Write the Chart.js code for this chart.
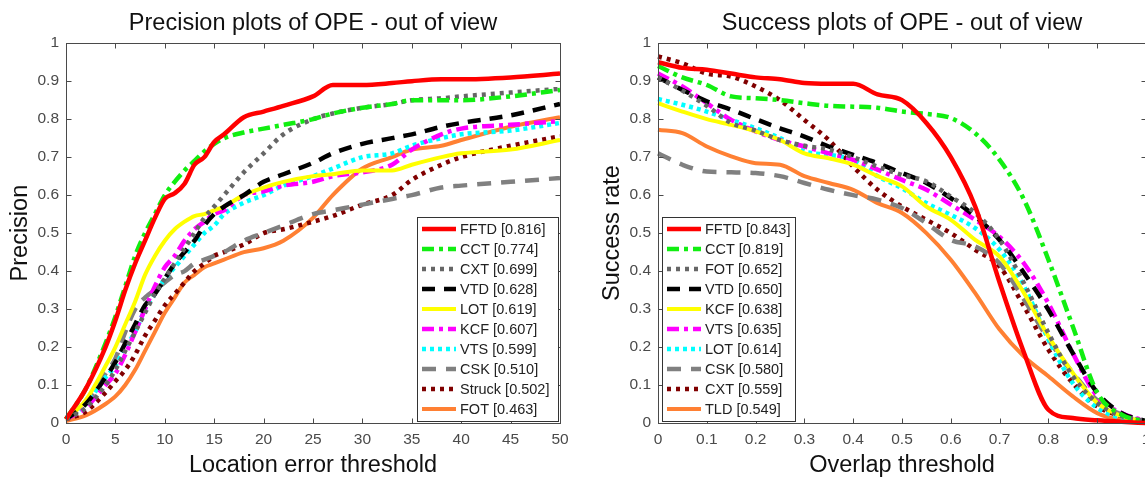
<!DOCTYPE html>
<html>
<head>
<meta charset="utf-8">
<script src="https://cdn.jsdelivr.net/npm/chart.js@4.4.1/dist/chart.umd.min.js"></script>
<style>
html, body { margin: 0; padding: 0; background: #fff; overflow: hidden; }
#wrap { position: relative; width: 1145px; height: 480px; overflow: hidden; }
#precision { position: absolute; left: 0; top: 0; }
#success { position: absolute; left: 580px; top: 0; }
</style>
</head>
<body>
<div id="wrap">
  <canvas id="precision" width="580" height="480"></canvas>
  <canvas id="success" width="590" height="480"></canvas>
</div>
<script>
// precision plot (location error threshold)
const precThresholds = [0, 2, 4, 5, 6, 7, 8, 9, 10, 11, 12, 13, 14, 15, 16, 18, 20, 22, 25, 27, 30, 33, 35, 38, 40, 45, 50];
const precNames = ['FFTD [0.816]', 'CCT [0.774]', 'CXT [0.699]', 'VTD [0.628]', 'LOT [0.619]',
                   'KCF [0.607]', 'VTS [0.599]', 'CSK [0.510]', 'Struck [0.502]', 'FOT [0.463]'];
const precFFTD   = [0.01, 0.09, 0.20, 0.27, 0.35, 0.42, 0.48, 0.54, 0.59, 0.605, 0.63, 0.68, 0.70, 0.74, 0.76, 0.805, 0.82, 0.835, 0.86, 0.89, 0.89, 0.895, 0.90, 0.905, 0.905, 0.91, 0.92];
const precCCT    = [0.01, 0.09, 0.21, 0.28, 0.36, 0.44, 0.50, 0.55, 0.60, 0.635, 0.665, 0.69, 0.715, 0.735, 0.75, 0.765, 0.775, 0.785, 0.80, 0.815, 0.83, 0.84, 0.85, 0.85, 0.85, 0.86, 0.877];
const precCXT    = [0.01, 0.04, 0.10, 0.14, 0.19, 0.24, 0.29, 0.34, 0.38, 0.42, 0.46, 0.50, 0.54, 0.57, 0.60, 0.66, 0.71, 0.76, 0.80, 0.815, 0.83, 0.84, 0.85, 0.855, 0.86, 0.87, 0.88];
const precVTD    = [0.01, 0.05, 0.12, 0.16, 0.21, 0.26, 0.31, 0.34, 0.38, 0.42, 0.45, 0.48, 0.52, 0.55, 0.57, 0.60, 0.635, 0.655, 0.685, 0.71, 0.735, 0.75, 0.76, 0.78, 0.79, 0.81, 0.84];
const precLOT    = [0.01, 0.06, 0.15, 0.20, 0.26, 0.32, 0.39, 0.44, 0.48, 0.51, 0.53, 0.545, 0.55, 0.56, 0.57, 0.60, 0.62, 0.635, 0.65, 0.655, 0.665, 0.665, 0.68, 0.70, 0.71, 0.72, 0.745];
const precKCF    = [0.01, 0.04, 0.10, 0.13, 0.18, 0.24, 0.30, 0.36, 0.41, 0.44, 0.48, 0.51, 0.53, 0.55, 0.56, 0.60, 0.61, 0.625, 0.635, 0.65, 0.66, 0.68, 0.72, 0.76, 0.775, 0.785, 0.795];
const precVTS    = [0.01, 0.05, 0.12, 0.15, 0.20, 0.24, 0.30, 0.34, 0.38, 0.41, 0.44, 0.47, 0.50, 0.52, 0.55, 0.58, 0.60, 0.625, 0.65, 0.67, 0.70, 0.71, 0.73, 0.75, 0.76, 0.77, 0.79];
const precCSK    = [0.01, 0.05, 0.13, 0.17, 0.24, 0.30, 0.33, 0.35, 0.37, 0.39, 0.40, 0.42, 0.43, 0.44, 0.45, 0.48, 0.50, 0.52, 0.55, 0.56, 0.575, 0.59, 0.60, 0.62, 0.625, 0.635, 0.645];
const precStruck = [0.01, 0.03, 0.08, 0.11, 0.14, 0.18, 0.23, 0.27, 0.31, 0.34, 0.37, 0.40, 0.42, 0.44, 0.45, 0.47, 0.50, 0.51, 0.53, 0.545, 0.575, 0.60, 0.64, 0.68, 0.70, 0.73, 0.755];
const precFOT    = [0.005, 0.02, 0.05, 0.07, 0.10, 0.14, 0.19, 0.24, 0.29, 0.33, 0.37, 0.39, 0.41, 0.42, 0.43, 0.45, 0.46, 0.48, 0.54, 0.60, 0.67, 0.70, 0.72, 0.73, 0.745, 0.78, 0.805];

// success plot (overlap threshold)
const succThresholds = [0, 0.05, 0.1, 0.15, 0.2, 0.25, 0.3, 0.35, 0.4, 0.45, 0.5, 0.55, 0.6, 0.65, 0.7, 0.75, 0.8, 0.85, 0.9, 0.95, 1];
const succNames = ['FFTD [0.843]', 'CCT [0.819]', 'FOT [0.652]', 'VTD [0.650]', 'KCF [0.638]',
                   'VTS [0.635]', 'LOT [0.614]', 'CSK [0.580]', 'CXT [0.559]', 'TLD [0.549]'];
const succFFTD = [0.95, 0.935, 0.93, 0.92, 0.91, 0.905, 0.895, 0.893, 0.893, 0.865, 0.85, 0.79, 0.70, 0.57, 0.37, 0.185, 0.035, 0.013, 0.007, 0.003, 0];
const succCCT  = [0.94, 0.91, 0.89, 0.86, 0.855, 0.85, 0.842, 0.835, 0.833, 0.83, 0.82, 0.814, 0.803, 0.763, 0.693, 0.588, 0.43, 0.254, 0.08, 0.022, 0.004];
const succFOT  = [0.91, 0.875, 0.835, 0.79, 0.77, 0.745, 0.73, 0.72, 0.70, 0.675, 0.653, 0.636, 0.596, 0.553, 0.482, 0.368, 0.237, 0.123, 0.053, 0.018, 0.005];
const succVTD  = [0.91, 0.877, 0.847, 0.825, 0.80, 0.776, 0.754, 0.728, 0.706, 0.684, 0.658, 0.632, 0.592, 0.544, 0.482, 0.395, 0.298, 0.184, 0.08, 0.026, 0.005];
const succKCF  = [0.842, 0.82, 0.80, 0.785, 0.768, 0.745, 0.71, 0.697, 0.68, 0.65, 0.623, 0.57, 0.535, 0.482, 0.438, 0.342, 0.228, 0.132, 0.053, 0.018, 0.003];
const succVTS  = [0.92, 0.886, 0.842, 0.798, 0.768, 0.745, 0.728, 0.71, 0.693, 0.667, 0.64, 0.614, 0.575, 0.535, 0.49, 0.42, 0.315, 0.184, 0.07, 0.026, 0.005];
const succLOT  = [0.853, 0.838, 0.82, 0.798, 0.776, 0.75, 0.715, 0.706, 0.693, 0.65, 0.618, 0.579, 0.548, 0.513, 0.456, 0.36, 0.22, 0.105, 0.04, 0.013, 0.003];
const succCSK  = [0.71, 0.68, 0.662, 0.66, 0.658, 0.65, 0.632, 0.614, 0.60, 0.588, 0.566, 0.526, 0.482, 0.465, 0.42, 0.325, 0.22, 0.132, 0.06, 0.022, 0.003];
const succCXT  = [0.965, 0.947, 0.92, 0.912, 0.886, 0.85, 0.798, 0.745, 0.675, 0.614, 0.57, 0.535, 0.50, 0.456, 0.412, 0.307, 0.193, 0.105, 0.044, 0.018, 0.003];
const succTLD  = [0.772, 0.763, 0.728, 0.702, 0.684, 0.68, 0.65, 0.632, 0.614, 0.579, 0.553, 0.50, 0.43, 0.342, 0.246, 0.175, 0.123, 0.07, 0.026, 0.007, 0.002];

// line style per rank (same in both plots)
const rankStyles = [
    { color: '#ff0000', dash: [],            width: 4.5 },
    { color: '#11ee11', dash: [12, 5, 4, 5], width: 4.5 },
    { color: '#666666', dash: [4, 5],        width: 4.5 },
    { color: '#000000', dash: [13, 9],       width: 4.5 },
    { color: '#ffff00', dash: [],            width: 4 },
    { color: '#ff00ff', dash: [12, 5, 4, 5], width: 4.5 },
    { color: '#00ffff', dash: [4, 4],        width: 4.5 },
    { color: '#808080', dash: [14, 10],      width: 4.5 },
    { color: '#800000', dash: [4, 5],        width: 4.5 },
    { color: '#ff8033', dash: [],            width: 4 }
];

const FONT = '"Liberation Sans", Arial, sans-serif';
const AXIS = '#4a4a4a';

// matlab style box, inward ticks and legend inside the axes
const boxLegend = {
    id: 'boxLegend',
    afterDatasetsDraw(chart, args, opts) {
        const { ctx, chartArea: a, scales } = chart;
        ctx.save();
        ctx.strokeStyle = AXIS;
        ctx.lineWidth = 1;
        ctx.setLineDash([]);
        const L = Math.round(a.left) + 0.5, R = Math.round(a.right) + 0.5;
        const T = Math.round(a.top) + 0.5, B = Math.round(a.bottom) + 0.5;
        ctx.strokeRect(L, T, R - L, B - T);
        ctx.beginPath();
        scales.x.ticks.forEach(t => {
            const px = Math.round(scales.x.getPixelForValue(t.value)) + 0.5;
            ctx.moveTo(px, B); ctx.lineTo(px, B - 5);
            ctx.moveTo(px, T); ctx.lineTo(px, T + 5);
        });
        scales.y.ticks.forEach(t => {
            const py = Math.round(scales.y.getPixelForValue(t.value)) + 0.5;
            ctx.moveTo(L, py); ctx.lineTo(L + 5, py);
            ctx.moveTo(R, py); ctx.lineTo(R - 5, py);
        });
        ctx.stroke();

        // legend
        const items = chart.data.datasets;
        ctx.font = '14.5px ' + FONT;
        const rowH = 20;
        const textW = Math.max(...items.map(d => ctx.measureText(d.label).width));
        const w = Math.round(43 + textW + opts.padRight);
        const h = rowH * items.length + 4;
        const bx = opts.corner === 'right' ? Math.round(a.right) - 2 - w : Math.round(a.left) + 4;
        const by = Math.round(a.bottom) - 2 - h;
        ctx.fillStyle = '#fff';
        ctx.fillRect(bx, by, w, h);
        ctx.strokeStyle = '#333';
        ctx.strokeRect(bx + 0.5, by + 0.5, w, h);
        items.forEach((d, i) => {
            const cy = by + 12 + rowH * i;
            ctx.beginPath();
            ctx.strokeStyle = d.borderColor;
            ctx.lineWidth = d.borderWidth;
            ctx.setLineDash(d.borderDash);
            ctx.moveTo(bx + 5, cy);
            ctx.lineTo(bx + 39, cy);
            ctx.stroke();
            ctx.setLineDash([]);
            ctx.fillStyle = '#222';
            ctx.textBaseline = 'middle';
            ctx.fillText(d.label, bx + 43, cy + 1);
        });
        ctx.restore();
    }
};

function fmt(v) {
    return String(Math.round(v * 10) / 10);
}

function buildChart(canvas, cfg) {
    const datasets = cfg.series.map((s, i) => ({
        label: cfg.names[i],
        data: cfg.xs.map((x, j) => ({ x: x, y: s[j] })),
        borderColor: rankStyles[i].color,
        borderDash: rankStyles[i].dash,
        borderWidth: rankStyles[i].width,
        pointRadius: 0,
        fill: false,
        cubicInterpolationMode: 'monotone',
        clip: 4
    }));
    return new Chart(canvas, {
        type: 'line',
        data: { datasets: datasets },
        plugins: [boxLegend],
        options: {
            responsive: false,
            animation: false,
            layout: { padding: { left: 0, right: cfg.padRight, top: 0, bottom: 0 } },
            plugins: {
                legend: { display: false },
                tooltip: { enabled: false },
                title: {
                    display: true,
                    text: cfg.title,
                    fullSize: false,
                    color: '#111',
                    font: { family: FONT, size: 23.5, weight: 'normal' },
                    padding: { top: 9, bottom: 6 }
                },
                boxLegend: { corner: cfg.legendCorner, padRight: cfg.legendPad }
            },
            scales: {
                x: {
                    type: 'linear',
                    min: cfg.xMin,
                    max: cfg.xMax,
                    grid: { display: false, drawTicks: false },
                    border: { display: false },
                    ticks: {
                        stepSize: cfg.xStep,
                        autoSkip: false,
                        maxRotation: 0,
                        padding: 7,
                        color: AXIS,
                        font: { family: FONT, size: 15.5 },
                        callback: cfg.xFmt
                    },
                    title: {
                        display: true,
                        text: cfg.xTitle,
                        color: '#111',
                        font: { family: FONT, size: 23.5 },
                        padding: { top: 0, bottom: 0 }
                    },
                    afterFit: s => { s.height = 57; }
                },
                y: {
                    min: 0,
                    max: 1,
                    grid: { display: false, drawTicks: false },
                    border: { display: false },
                    ticks: {
                        stepSize: 0.1,
                        padding: 7,
                        color: AXIS,
                        font: { family: FONT, size: 15.5 },
                        callback: fmt
                    },
                    title: {
                        display: true,
                        text: cfg.yTitle,
                        color: '#111',
                        font: { family: FONT, size: 23.5 },
                        padding: { top: cfg.yTitlePad, bottom: 0 }
                    },
                    afterFit: s => { s.width = cfg.yWidth; }
                }
            }
        }
    });
}

buildChart(document.getElementById('precision'), {
    title: 'Precision plots of OPE - out of view',
    xTitle: 'Location error threshold',
    yTitle: 'Precision',
    xs: precThresholds,
    names: precNames,
    series: [precFFTD, precCCT, precCXT, precVTD, precLOT, precKCF, precVTS, precCSK, precStruck, precFOT],
    xMin: 0, xMax: 50, xStep: 5,
    xFmt: v => String(v),
    yWidth: 66, yTitlePad: 6, padRight: 20,
    legendCorner: 'right', legendPad: 9
});

buildChart(document.getElementById('success'), {
    title: 'Success plots of OPE - out of view',
    xTitle: 'Overlap threshold',
    yTitle: 'Success rate',
    xs: succThresholds,
    names: succNames,
    series: [succFFTD, succCCT, succFOT, succVTD, succKCF, succVTS, succLOT, succCSK, succCXT, succTLD],
    xMin: 0, xMax: 1, xStep: 0.1,
    xFmt: fmt,
    yWidth: 78, yTitlePad: 18, padRight: 24,
    legendCorner: 'left', legendPad: 5
});
</script>
</body>
</html>
